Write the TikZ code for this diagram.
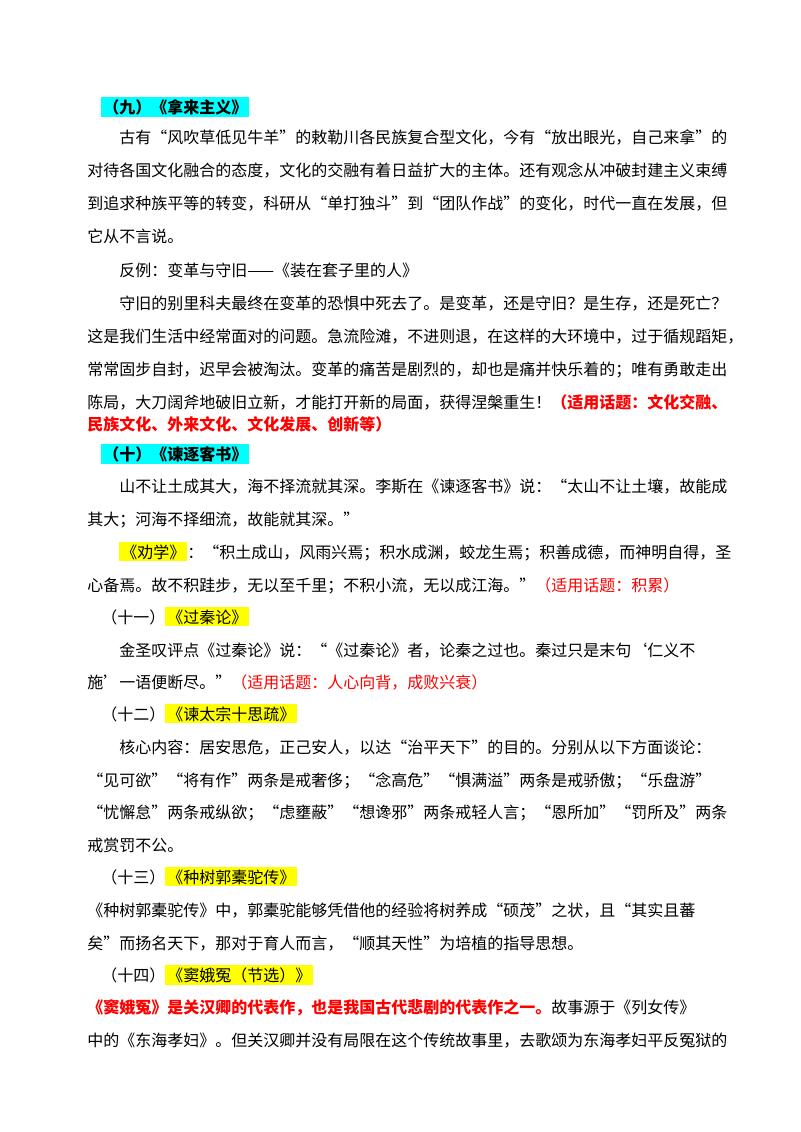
\documentclass[tikz,border=0pt]{standalone}
\usepackage{fontspec}
\setmainfont{Noto Sans CJK SC}
\usepackage{xcolor}
\definecolor{hlcyan}{RGB}{0,255,255}
\definecolor{hlyellow}{RGB}{255,255,0}
\definecolor{topicred}{RGB}{255,0,0}
\newcommand{\hlbox}[2]{{\setlength{\fboxsep}{1.5pt}\colorbox{#1}{#2}}}
\tikzset{
  txt/.style={anchor=base west, inner sep=0pt, font=\fontsize{12}{12}\selectfont},
  topic/.style={text=topicred},
}
\begin{document}
\begin{tikzpicture}[x=0.75pt, y=-0.75pt]
  \useasboundingbox[fill=white] (0, 0) rectangle (800, 1132);
  % (九)
  \node[txt] (h9) at (101, 113) {\hlbox{hlcyan}{\textbf{（九）《拿来主义》}}};
  \node[txt] (p1) at (119, 143) {古有“风吹草低见牛羊”的敕勒川各民族复合型文化，今有“放出眼光，自己来拿”的};
  \node[txt] (p2) at (87, 176) {对待各国文化融合的态度，文化的交融有着日益扩大的主体。还有观念从冲破封建主义束缚};
  \node[txt] (p3) at (87, 209) {到追求种族平等的转变，科研从“单打独斗”到“团队作战”的变化，时代一直在发展，但};
  \node[txt] (p4) at (87, 242) {它从不言说。};
  \node[txt] (p5) at (119, 276) {反例：变革与守旧——《装在套子里的人》};
  \node[txt] (p6) at (119, 309) {守旧的别里科夫最终在变革的恐惧中死去了。是变革，还是守旧？是生存，还是死亡？};
  \node[txt] (p7) at (87, 342) {这是我们生活中经常面对的问题。急流险滩，不进则退，在这样的大环境中，过于循规蹈矩，};
  \node[txt] (p8) at (87, 375) {常常固步自封，迟早会被淘汰。变革的痛苦是剧烈的，却也是痛并快乐着的；唯有勇敢走出};
  \node[txt] (p9) at (87, 408) {陈局，大刀阔斧地破旧立新，才能打开新的局面，获得涅槃重生！\textcolor{topicred}{\textbf{（适用话题：文化交融、}}};
  \node[txt, topic] (p10) at (87, 430) {\textbf{民族文化、外来文化、文化发展、创新等）}};
  % (十)
  \node[txt] (h10) at (101, 460) {\hlbox{hlcyan}{\textbf{（十）《谏逐客书》}}};
  \node[txt] (q1) at (119, 492) {山不让土成其大，海不择流就其深。李斯在《谏逐客书》说：“太山不让土壤，故能成};
  \node[txt] (q2) at (87, 525) {其大；河海不择细流，故能就其深。”};
  \node[txt] (q3) at (119, 558) {\hlbox{hlyellow}{《劝学》}：“积土成山，风雨兴焉；积水成渊，蛟龙生焉；积善成德，而神明自得，圣};
  \node[txt] (q4) at (87, 591) {心备焉。故不积跬步，无以至千里；不积小流，无以成江海。”\textcolor{topicred}{（适用话题：积累）}};
  % (十一)
  \node[txt] (h11) at (101, 623) {（十一）\hlbox{hlyellow}{《过秦论》}};
  \node[txt] (r1) at (119, 656) {金圣叹评点《过秦论》说：“《过秦论》者，论秦之过也。秦过只是末句‘仁义不};
  \node[txt] (r2) at (87, 688) {施’一语便断尽。”\textcolor{topicred}{（适用话题：人心向背，成败兴衰）}};
  % (十二)
  \node[txt] (h12) at (101, 720) {（十二）\hlbox{hlyellow}{《谏太宗十思疏》}};
  \node[txt] (s1) at (119, 753) {核心内容：居安思危，正己安人，以达“治平天下”的目的。分别从以下方面谈论：};
  \node[txt] (s2) at (87, 786) {“见可欲”“将有作”两条是戒奢侈；“念高危”“惧满溢”两条是戒骄傲；“乐盘游”};
  \node[txt] (s3) at (87, 818) {“忧懈怠”两条戒纵欲；“虑壅蔽”“想谗邪”两条戒轻人言；“恩所加”“罚所及”两条};
  \node[txt] (s4) at (87, 851) {戒赏罚不公。};
  % (十三)
  \node[txt] (h13) at (101, 883) {（十三）\hlbox{hlyellow}{《种树郭橐驼传》}};
  \node[txt] (t1) at (87, 916) {《种树郭橐驼传》中，郭橐驼能够凭借他的经验将树养成“硕茂”之状，且“其实且蕃};
  \node[txt] (t2) at (87, 949) {矣”而扬名天下，那对于育人而言，“顺其天性”为培植的指导思想。};
  % (十四)
  \node[txt] (h14) at (101, 981) {（十四）\hlbox{hlyellow}{《窦娥冤（节选）》}};
  \node[txt] (u1) at (87, 1013) {\textcolor{topicred}{\textbf{《窦娥冤》是关汉卿的代表作，也是我国古代悲剧的代表作之一。}}故事源于《列女传》};
  \node[txt] (u2) at (87, 1046) {中的《东海孝妇》。但关汉卿并没有局限在这个传统故事里，去歌颂为东海孝妇平反冤狱的};
\end{tikzpicture}
\end{document}
